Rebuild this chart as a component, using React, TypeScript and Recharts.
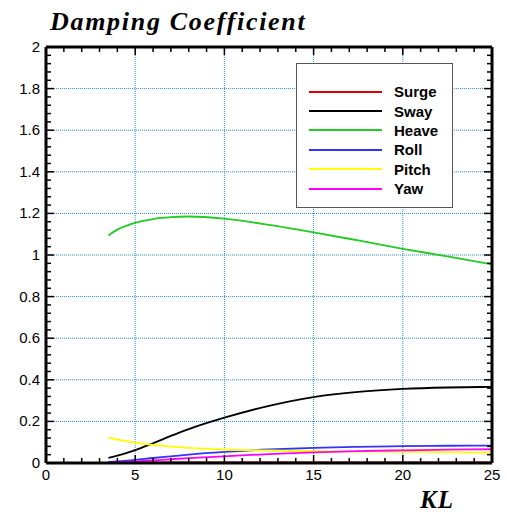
import React from "react";
import {
  LineChart,
  Line,
  XAxis,
  YAxis,
  CartesianGrid,
  Legend,
} from "recharts";

const KL = [3.5, 4, 5, 6, 7, 8, 10, 12.5, 15, 17.5, 20, 22.5, 25];
const SURGE = [0.003, 0.003, 0.003, 0.003, 0.003, 0.003, 0.003, 0.003, 0.003, 0.003, 0.003, 0.003, 0.003];
const SWAY = [0.025, 0.035, 0.062, 0.095, 0.13, 0.163, 0.218, 0.275, 0.317, 0.342, 0.356, 0.363, 0.366];
const HEAVE = [1.094, 1.122, 1.155, 1.173, 1.182, 1.185, 1.175, 1.145, 1.109, 1.07, 1.03, 0.993, 0.955];
const ROLL = [0.005, 0.008, 0.015, 0.024, 0.032, 0.04, 0.053, 0.065, 0.073, 0.078, 0.081, 0.083, 0.084];
const PITCH = [0.121, 0.113, 0.098, 0.087, 0.079, 0.073, 0.065, 0.06, 0.057, 0.055, 0.054, 0.052, 0.05];
const YAW = [0.002, 0.004, 0.008, 0.013, 0.018, 0.023, 0.032, 0.043, 0.051, 0.057, 0.061, 0.064, 0.066];

const X_TICKS = [0, 5, 10, 15, 20, 25];
const X_MINOR = [0, 1, 2, 3, 4, 5, 6, 7, 8, 9, 10, 11, 12, 13, 14, 15, 16, 17, 18, 19, 20, 21, 22, 23, 24, 25];
const Y_TICKS = [0, 0.2, 0.4, 0.6, 0.8, 1, 1.2, 1.4, 1.6, 1.8, 2];
const Y_MINOR = [
  0, 0.04, 0.08, 0.12, 0.16, 0.2, 0.24, 0.28, 0.32, 0.36, 0.4, 0.44, 0.48, 0.52, 0.56, 0.6,
  0.64, 0.68, 0.72, 0.76, 0.8, 0.84, 0.88, 0.92, 0.96, 1, 1.04, 1.08, 1.12, 1.16, 1.2,
  1.24, 1.28, 1.32, 1.36, 1.4, 1.44, 1.48, 1.52, 1.56, 1.6, 1.64, 1.68, 1.72, 1.76, 1.8,
  1.84, 1.88, 1.92, 1.96, 2,
];

const SERIES = [
  { key: "Surge", values: SURGE, color: "#e00000" },
  { key: "Sway", values: SWAY, color: "#000000" },
  { key: "Heave", values: HEAVE, color: "#22cc22" },
  { key: "Roll", values: ROLL, color: "#3333ff" },
  { key: "Pitch", values: PITCH, color: "#ffff00" },
  { key: "Yaw", values: YAW, color: "#ff00ff" },
];

const data = KL.map((kl, i) => {
  const row: Record<string, number> = { kl };
  SERIES.forEach((s) => (row[s.key] = s.values[i]));
  return row;
});

const W = 507;
const H = 512;
const MARGIN = { top: 47, right: 15, bottom: 29, left: 6 };
const X_AXIS_H = 20;
const Y_AXIS_W = 40;
// plot box edges, used by the tick renderers to draw ticks on both opposite sides
const PLOT_TOP = MARGIN.top;
const PLOT_BOTTOM = H - MARGIN.bottom - X_AXIS_H;
const PLOT_LEFT = MARGIN.left + Y_AXIS_W;
const PLOT_RIGHT = W - MARGIN.right;

const sans = "'Liberation Sans', Arial, sans-serif";
const serif = "'Liberation Serif', 'Times New Roman', serif";
const noLabel = () => <g />;
const near = (list: number[], v: number) => list.some((t) => Math.abs(t - v) < 1e-6);

function XTick(props: any) {
  const { x, payload } = props;
  const major = near(X_TICKS, payload.value);
  const len = major ? 8 : 5;
  return (
    <g>
      <line x1={x} x2={x} y1={PLOT_BOTTOM} y2={PLOT_BOTTOM - len} stroke="#000" strokeWidth={1.5} />
      <line x1={x} x2={x} y1={PLOT_TOP} y2={PLOT_TOP + len} stroke="#000" strokeWidth={1.5} />
      {major && (
        <text x={x} y={PLOT_BOTTOM + 17} textAnchor="middle" fontFamily={sans} fontSize={15} fill="#000">
          {payload.value}
        </text>
      )}
    </g>
  );
}

function YTick(props: any) {
  const { y, payload } = props;
  const major = near(Y_TICKS, payload.value);
  const len = major ? 8 : 5;
  return (
    <g>
      <line x1={PLOT_LEFT} x2={PLOT_LEFT + len} y1={y} y2={y} stroke="#000" strokeWidth={1.5} />
      <line x1={PLOT_RIGHT} x2={PLOT_RIGHT - len} y1={y} y2={y} stroke="#000" strokeWidth={1.5} />
      {major && (
        <text x={PLOT_LEFT - 6} y={y + 5} textAnchor="end" fontFamily={sans} fontSize={15} fill="#000">
          {payload.value}
        </text>
      )}
    </g>
  );
}

function LegendBox() {
  return (
    <div
      style={{
        width: 155,
        height: 125,
        border: "1px solid #555",
        background: "#fff",
        boxSizing: "content-box",
        paddingTop: 18,
      }}
    >
      {SERIES.map((s) => (
        <div key={s.key} style={{ display: "flex", alignItems: "center", height: 19.4 }}>
          <div style={{ marginLeft: 12, width: 73, height: 2, background: s.color }} />
          <span
            style={{
              marginLeft: 12,
              fontFamily: sans,
              fontWeight: "bold",
              fontSize: 15,
              color: "#000",
            }}
          >
            {s.key}
          </span>
        </div>
      ))}
    </div>
  );
}

export default function App() {
  const frame = { stroke: "#000", strokeWidth: 3 };
  const frameAxis = { tickLine: false, tick: noLabel, mirror: true, axisLine: frame };
  return (
    <div style={{ position: "absolute", left: 0, top: 0, width: W, height: H, background: "#fff" }}>
      <div
        style={{
          position: "absolute",
          left: 50,
          top: 7,
          fontFamily: serif,
          fontWeight: "bold",
          fontStyle: "italic",
          fontSize: 26,
          letterSpacing: 1.7,
          lineHeight: "30px",
          whiteSpace: "nowrap",
        }}
      >
        Damping Coefficient
      </div>
      <div
        style={{
          position: "absolute",
          left: 420,
          top: 487,
          fontFamily: serif,
          fontWeight: "bold",
          fontStyle: "italic",
          fontSize: 25,
          letterSpacing: 1,
          lineHeight: "26px",
        }}
      >
        KL
      </div>
      <LineChart width={W} height={H} data={data} margin={MARGIN}>
        <CartesianGrid
          xAxisId="xc"
          yAxisId="yc"
          stroke="#2a8cf0"
          strokeDasharray="1 1"
          verticalValues={X_TICKS}
          horizontalValues={Y_TICKS}
        />
        <XAxis xAxisId="xa" type="number" domain={[0, 25]} ticks={X_TICKS} height={1} {...frameAxis} />
        <XAxis
          xAxisId="xc"
          dataKey="kl"
          type="number"
          domain={[0, 25]}
          ticks={X_MINOR}
          interval={0}
          tickLine={false}
          axisLine={false}
          tickSize={0}
          tickMargin={0}
          height={X_AXIS_H}
          tick={XTick}
        />
        <XAxis xAxisId="xd" orientation="top" type="number" domain={[0, 25]} ticks={X_TICKS} height={1} {...frameAxis} />
        <YAxis yAxisId="ya" type="number" domain={[0, 2]} ticks={Y_TICKS} width={1} {...frameAxis} />
        <YAxis
          yAxisId="yc"
          type="number"
          domain={[0, 2]}
          ticks={Y_MINOR}
          interval={0}
          tickLine={false}
          axisLine={false}
          tickSize={0}
          tickMargin={0}
          width={Y_AXIS_W}
          tick={YTick}
        />
        <YAxis yAxisId="yd" orientation="right" type="number" domain={[0, 2]} ticks={Y_TICKS} width={1} {...frameAxis} />
        {SERIES.map((s) => (
          <Line
            key={s.key}
            xAxisId="xc"
            yAxisId="yc"
            type="monotone"
            dataKey={s.key}
            stroke={s.color}
            strokeWidth={1.8}
            dot={false}
            isAnimationActive={false}
          />
        ))}
        <Legend
          layout="vertical"
          align="center"
          verticalAlign="middle"
          content={() => <LegendBox />}
          wrapperStyle={{ position: "absolute", left: 296, top: 63, width: "auto" }}
        />
      </LineChart>
    </div>
  );
}
